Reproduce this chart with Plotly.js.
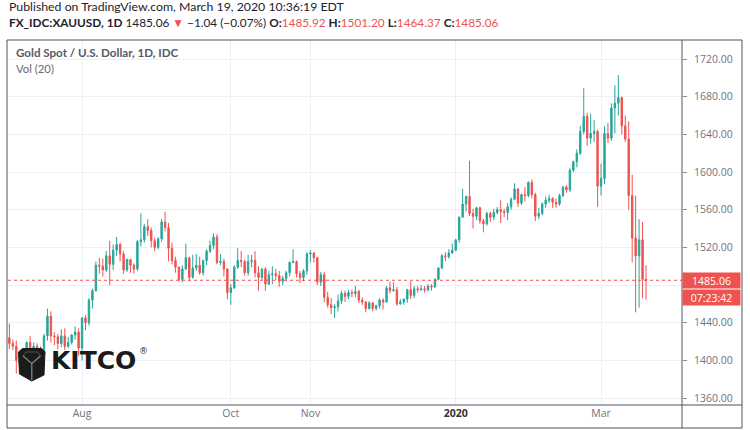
<!DOCTYPE html>
<html>
<head>
<meta charset="utf-8">
<script src="https://cdn.plot.ly/plotly-3.0.1.min.js"></script>
<style>
  html, body { margin:0; padding:0; background:#ffffff; }
  #chart { width:750px; height:430px; }
</style>
</head>
<body>
<div id="chart"></div>
<script>
// ---- trading days per month (IDC daily bars) ----
const julDays = [3,4,5,8,9,10,11,12,15,16,17,18,19,22,23,24,25,26,29,30,31];
const augDays = [1,2,5,6,7,8,9,12,13,14,15,16,19,20,21,22,23,26,27,28,29,30];
const sepDays = [2,3,4,5,6,9,10,11,12,13,16,17,18,19,20,23,24,25,26,27,30];
const octDays = [1,2,3,4,7,8,9,10,11,14,15,16,17,18,21,22,23,24,25,28,29,30,31];
const novDays = [1,4,5,6,7,8,11,12,13,14,15,18,19,20,21,22,25,26,27,28,29];
const decDays = [2,3,4,5,6,9,10,11,12,13,16,17,18,19,20,23,24,26,27,30,31];
const janDays = [2,3,6,7,8,9,10,13,14,15,16,17,20,21,22,23,24,27,28,29,30,31];
const febDays = [3,4,5,6,7,10,11,12,13,14,17,18,19,20,21,24,25,26,27,28];
const marDays = [2,3,4,5,6,9,10,11,12,13,16,17,18,19];

// ---- OHLC values ----
const open = [
 1424,1418,1415,1400,1396,1397,1419,1404,1415,1413,1406,1426,1447,1426,1425,1418,1426,1415,1419,1427,1430,
 1413,1445,1440,1464,1474,1501,1500,1496,1511,1502,1517,1523,1513,1496,1507,1501,1497,1526,1528,1542,1538,1527,
 1520,1529,1547,1541,1519,1506,1499,1486,1497,1509,1488,1498,1501,1493,1506,1516,1522,1531,1504,1505,1497,
 1472,1477,1499,1506,1505,1493,1505,1506,1493,1488,1497,1481,1491,1492,1490,1484,1487,1493,1504,1505,1492,1488,1495,
 1513,1514,1509,1483,1491,1467,1459,1456,1457,1463,1471,1468,1472,1471,1473,1464,1462,1455,1461,1455,1458,
 1464,1462,1477,1474,1475,1460,1462,1465,1475,1469,1476,1475,1476,1475,1479,1478,1486,1498,1511,1510,1514,
 1517,1528,1552,1566,1574,1556,1553,1562,1548,1545,1556,1552,1557,1560,1558,1557,1563,1571,1582,1567,1576,1575,
 1589,1576,1553,1556,1566,1570,1572,1568,1566,1575,1584,1581,1602,1611,1620,1643,1659,1636,1641,1643,
 1585,1593,1641,1636,1668,1673,1679,1649,1635,1575,1530,1511,1528,1485.92
];
const high = [
 1439,1422,1421,1404,1401,1420,1426,1419,1418,1415,1428,1455,1452,1430,1428,1433,1434,1425,1428,1436,1434,
 1446,1448,1466,1476,1505,1509,1508,1516,1527,1523,1531,1525,1516,1508,1508,1503,1528,1556,1545,1550,1541,1530,
 1531,1550,1558,1546,1525,1510,1500,1501,1524,1510,1512,1513,1510,1507,1518,1527,1535,1534,1513,1508,1498,
 1481,1501,1519,1516,1507,1512,1512,1516,1500,1498,1499,1495,1500,1497,1495,1490,1495,1505,1518,1506,1495,1497,1515,
 1517,1515,1510,1494,1494,1473,1466,1460,1470,1474,1474,1475,1475,1479,1475,1467,1463,1463,1462,1459,1466,
 1466,1479,1484,1483,1478,1465,1466,1476,1484,1479,1479,1480,1479,1481,1481,1487,1499,1513,1515,1518,1524,
 1529,1553,1582,1575,1612,1561,1563,1563,1550,1558,1558,1561,1563,1570,1561,1567,1573,1588,1583,1577,1584,1590,
 1592,1578,1562,1568,1574,1576,1573,1572,1577,1585,1586,1604,1612,1624,1649,1689,1663,1662,1655,1645,
 1609,1649,1652,1673,1692,1703,1680,1660,1654,1597,1575,1550,1547,1501.20
];
const low = [
 1412,1411,1386,1388,1385,1393,1403,1402,1409,1400,1404,1421,1419,1416,1412,1414,1411,1413,1417,1422,1405,
 1400,1432,1437,1455,1473,1492,1489,1494,1480,1496,1511,1505,1492,1494,1493,1492,1495,1521,1525,1532,1520,1516,
 1518,1526,1537,1505,1502,1493,1484,1483,1496,1484,1487,1495,1491,1490,1501,1514,1518,1502,1501,1489,1465,
 1459,1476,1497,1499,1490,1490,1499,1488,1474,1485,1474,1480,1481,1485,1478,1480,1484,1489,1503,1488,1482,1484,1491,
 1504,1504,1480,1479,1462,1456,1449,1445,1452,1460,1462,1465,1467,1467,1461,1459,1451,1454,1452,1453,1455,
 1454,1461,1471,1473,1458,1459,1459,1461,1465,1466,1472,1474,1472,1473,1474,1477,1485,1497,1505,1508,1513,
 1516,1525,1552,1558,1553,1540,1549,1545,1536,1543,1547,1549,1555,1546,1552,1549,1560,1571,1563,1565,1569,1573,
 1572,1548,1550,1554,1562,1567,1562,1562,1564,1573,1578,1579,1600,1605,1618,1640,1628,1630,1632,1563,
 1575,1587,1631,1633,1641,1660,1640,1632,1560,1504,1451,1456,1466,1464.37
];
const close = [
 1418,1415,1400,1396,1397,1419,1404,1415,1413,1406,1426,1447,1426,1425,1418,1426,1415,1419,1427,1430,1413,
 1445,1440,1464,1474,1501,1500,1496,1511,1502,1517,1523,1513,1496,1507,1501,1497,1526,1528,1542,1538,1527,1520,
 1529,1547,1541,1519,1506,1499,1486,1497,1509,1488,1498,1501,1493,1506,1516,1522,1531,1504,1505,1497,1472,
 1477,1499,1506,1505,1493,1505,1506,1493,1488,1497,1481,1491,1492,1490,1484,1487,1493,1504,1505,1492,1488,1495,1513,
 1514,1509,1483,1491,1467,1459,1456,1457,1463,1471,1468,1472,1471,1473,1464,1462,1455,1461,1455,1458,1464,
 1462,1477,1474,1475,1460,1462,1465,1475,1469,1476,1475,1476,1475,1479,1478,1486,1498,1511,1510,1514,1517,
 1528,1552,1566,1574,1556,1553,1562,1548,1545,1556,1552,1557,1560,1558,1557,1563,1571,1582,1567,1576,1575,1589,
 1576,1553,1556,1566,1570,1572,1568,1566,1575,1584,1581,1602,1611,1620,1643,1659,1636,1641,1643,1585,
 1593,1641,1636,1668,1673,1679,1649,1635,1575,1530,1511,1528,1486.10,1485.06
];

// ---- axis labels ----
const tickMonths = ['2019-08','2019-10','2019-11','2020-01','2020-03'];
const tickLabels = ['Aug','Oct','Nov','<b><span style="color:#333">2020</span></b>','Mar'];
const priceTicks = [1360,1400,1440,1480,1520,1560,1600,1640,1680,1720];
const hiddenPriceTick = 1480;   // covered by the last-price badge

// ---- build dates ----
const monthDefs = [['2019-07',julDays],['2019-08',augDays],['2019-09',sepDays],['2019-10',octDays],
  ['2019-11',novDays],['2019-12',decDays],['2020-01',janDays],['2020-02',febDays],['2020-03',marDays]];
const dates = [];
monthDefs.forEach(([m, ds]) => ds.forEach(d => dates.push(m + '-' + String(d).padStart(2,'0'))));
const idx = dates.map((d,i) => i);
const tickIdx = tickMonths.map(m => dates.findIndex(d => d.startsWith(m)));
const priceText = priceTicks.map(v => v === hiddenPriceTick ? '' : v.toFixed(2));

const n = close.length;
const lastC = close[n-1], prevC = close[n-2];
const chg = lastC - prevC;
const pct = chg / prevC * 100;
const mfmt = v => (v < 0 ? '\u2212' : '+') + Math.abs(v).toFixed(2);

// ---- geometry helpers (pixel -> paper) ----
const L = 8, R = 682, T = 40, B = 405;
const px = x => (x - L) / (R - L);
const py = y => (B - y) / (B - T);
const P = (x, y) => px(x).toFixed(5) + ',' + py(y).toFixed(5);

const GREEN = '#26a69a', RED = '#ef5350';

const trace = {
  type: 'candlestick',
  x: idx, open: open, high: high, low: low, close: close,
  increasing: { line: { color: GREEN, width: 1 }, fillcolor: GREEN },
  decreasing: { line: { color: RED, width: 1 }, fillcolor: RED },
  whiskerwidth: 0,
  hoverinfo: 'skip',
  showlegend: false
};

const frameColor = '#50535e';
const shapes = [
  { type:'line', xref:'paper', yref:'y', x0:0, x1:1, y0:lastC, y1:lastC,
    line:{ color:RED, width:1, dash:'dot' }, layer:'above' },
  { type:'rect', xref:'paper', yref:'paper', x0:px(7), x1:px(742), y0:py(428), y1:py(40),
    line:{ color:frameColor, width:1 }, layer:'above' },
  { type:'line', xref:'paper', yref:'paper', x0:px(682), x1:px(682), y0:py(428), y1:py(40),
    line:{ color:frameColor, width:1 }, layer:'above' },
  { type:'line', xref:'paper', yref:'paper', x0:px(7), x1:px(742), y0:py(405), y1:py(405),
    line:{ color:frameColor, width:1 }, layer:'above' },
  // KITCO icon
  { type:'path', xref:'paper', yref:'paper', layer:'above',
    path:'M'+P(18.5,352)+' L'+P(22.5,348.5)+' L'+P(41.5,348.5)+' L'+P(45,352)+' L'+P(44,375)+' L'+P(31.8,381)+' L'+P(19.5,374)+' Z',
    fillcolor:'#1b1b1b', line:{ color:'#1b1b1b', width:1 } },
  { type:'path', xref:'paper', yref:'paper', layer:'above',
    path:'M'+P(23,356)+' L'+P(31.8,363.5)+' L'+P(40.5,356)+' M'+P(31.8,363.5)+' L'+P(31.8,380),
    line:{ color:'#8a8a8a', width:1.2 } },
  { type:'path', xref:'paper', yref:'paper', layer:'above',
    path:'M'+P(23,356)+' L'+P(26,352)+' L'+P(37.5,352)+' L'+P(40.5,356),
    line:{ color:'#555555', width:1 } }
];

const hdrFont = 'Lato, "Open Sans", sans-serif';
const annotations = [
  { xref:'paper', yref:'paper', x:px(7), y:py(6.5), xanchor:'left', yanchor:'middle', showarrow:false,
    text:'Published on TradingView.com, March 19, 2020 10:36:19 EDT',
    font:{ family:hdrFont, size:12.3, color:'#1e222d' } },
  { xref:'paper', yref:'paper', x:px(7), y:py(22.5), xanchor:'left', yanchor:'middle', showarrow:false,
    text:'<b>FX_IDC:XAUUSD, 1D</b> ' + lastC.toFixed(2) + ' <span style="color:'+RED+'">\u25BC</span> ' +
         mfmt(chg) + ' (' + mfmt(pct) + '%) ' +
         '<b>O:</b><span style="color:'+RED+'">' + open[n-1].toFixed(2) + '</span> ' +
         '<b>H:</b><span style="color:'+RED+'">' + high[n-1].toFixed(2) + '</span> ' +
         '<b>L:</b><span style="color:'+RED+'">' + low[n-1].toFixed(2) + '</span> ' +
         '<b>C:</b><span style="color:'+RED+'">' + lastC.toFixed(2) + '</span>',
    font:{ family:hdrFont, size:11.8, color:'#1e222d' } },
  { xref:'paper', yref:'paper', x:px(14), y:py(52.5), xanchor:'left', yanchor:'middle', showarrow:false,
    text:'<b>Gold Spot / U.S. Dollar, 1D, IDC</b>', font:{ family:hdrFont, size:11.6, color:'#555a66' } },
  { xref:'paper', yref:'paper', x:px(14), y:py(68), xanchor:'left', yanchor:'middle', showarrow:false,
    text:'Vol (20)', font:{ family:hdrFont, size:11.3, color:'#666b76' } },
  { xref:'paper', yref:'y', x:px(711.8), y:lastC, xanchor:'center', yanchor:'middle', showarrow:false,
    text:lastC.toFixed(2), width:57, height:15, bgcolor:RED, borderpad:0,
    font:{ family:'"Open Sans", sans-serif', size:10.5, color:'#ffffff' } },
  { xref:'paper', yref:'y', x:px(711.8), y:lastC, yshift:-17, xanchor:'center', yanchor:'middle', showarrow:false,
    text:'07:23:42', width:57, height:15, bgcolor:RED, borderpad:0,
    font:{ family:'"Open Sans", sans-serif', size:10.5, color:'#ffffff' } },
  { xref:'paper', yref:'paper', x:px(48.5), y:py(360.5), xanchor:'left', yanchor:'middle', showarrow:false,
    text:'<b>KITCO</b>', font:{ family:'"DejaVu Sans", sans-serif', size:25, color:'#1b1b1b' } },
  { xref:'paper', yref:'paper', x:px(143), y:py(350.5), xanchor:'center', yanchor:'middle', showarrow:false,
    text:'\u00AE', font:{ family:'"DejaVu Sans", sans-serif', size:9, color:'#333333' } }
];

const gridColor = '#eaf0f6';
const layout = {
  width: 750, height: 430,
  margin: { l: L, r: 750 - R, t: T, b: 430 - B, pad: 0 },
  paper_bgcolor: '#ffffff', plot_bgcolor: '#ffffff',
  showlegend: false,
  boxgap: 0.42,
  xaxis: {
    type: 'linear', range: [-0.4, 194.4], fixedrange: true,
    tickmode: 'array', tickvals: tickIdx, ticktext: tickLabels,
    showgrid: true, gridcolor: gridColor, gridwidth: 1, zeroline: false, showline: false,
    ticks: '', tickfont: { family: '"Open Sans", sans-serif', size: 10.5, color: '#6f7380' },
    rangeslider: { visible: false }
  },
  yaxis: {
    side: 'right', range: [1352.6, 1740.2], fixedrange: true,
    tickmode: 'array', tickvals: priceTicks, ticktext: priceText,
    showgrid: true, gridcolor: gridColor, gridwidth: 1, zeroline: false, showline: false,
    ticks: 'outside', ticklen: 4, tickcolor: '#8a8d96', tickwidth: 1,
    ticklabelstandoff: 5,
    tickfont: { family: '"Open Sans", sans-serif', size: 10.5, color: '#6f7380' }
  },
  shapes: shapes,
  annotations: annotations
};

Plotly.newPlot('chart', [trace], layout, { displayModeBar: false, staticPlot: true });
</script>
</body>
</html>
